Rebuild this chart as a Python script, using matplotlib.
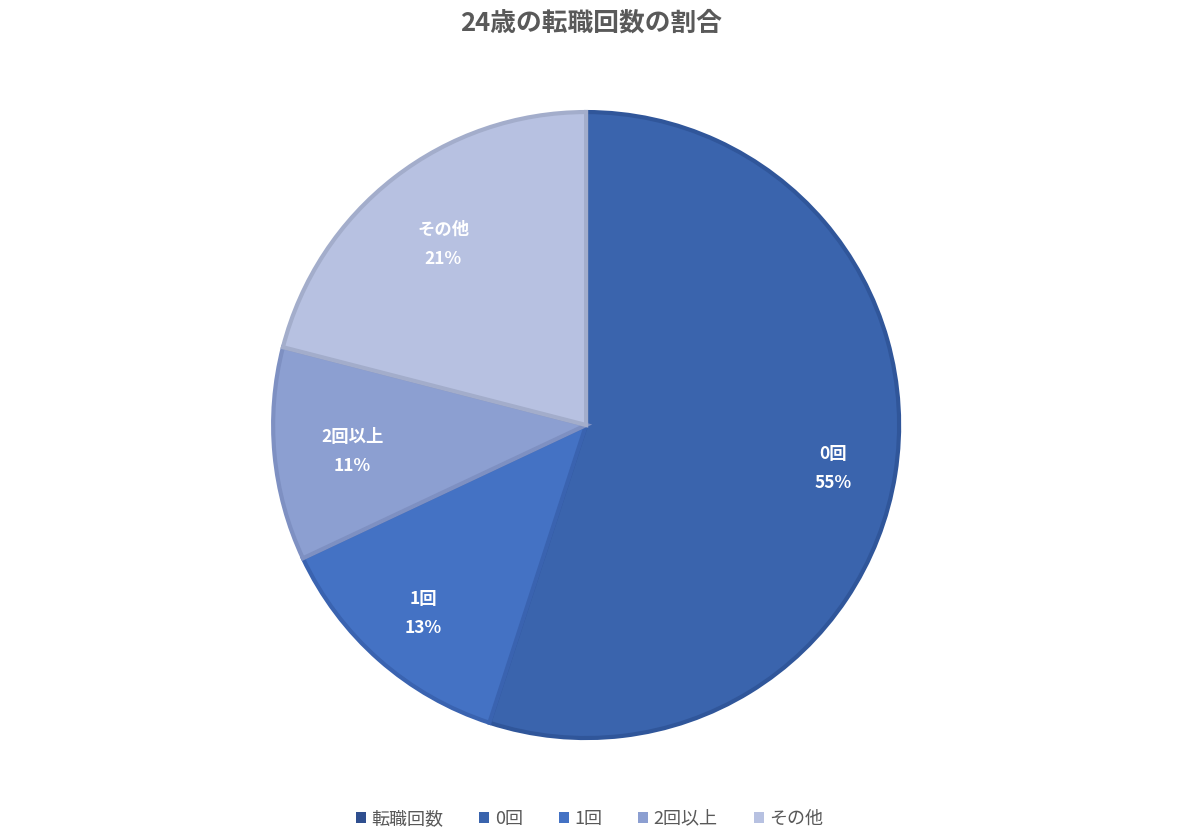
import math
import matplotlib
matplotlib.use('Agg')
import matplotlib.pyplot as plt
from matplotlib.patches import Patch

plt.rcParams['font.family'] = ['Noto Sans CJK JP', 'DejaVu Sans']

# data
title = '24歳の転職回数の割合'
series_name = '転職回数'
categories = ['0回', '1回', '2回以上', 'その他']
values = [55, 13, 11, 21]

colors = ['#3A64AD', '#4472C4', '#8C9FD1', '#B7C1E1']
edges = ['#30569A', '#3A63B0', '#7E90C2', '#A3ADCB']
label_dist = [0.8, 0.786, 0.75, 0.745]   # excel "best fit" placement
series_color = '#2F4F8F'
gray = '#595959'

fig = plt.figure(figsize=(11.86, 8.38), dpi=100)
ax = fig.add_axes([0.2302, 0.1193, 0.528, 0.747])

wedges, texts = ax.pie(values, colors=colors, startangle=90, counterclock=False,
                       wedgeprops=dict(linewidth=3))
for w, ec in zip(wedges, edges):
    w.set_edgecolor(ec)

total = sum(values)
for w, cat, v, d in zip(wedges, categories, values, label_dist):
    mid = math.radians((w.theta1 + w.theta2) / 2)
    ax.text(d * math.cos(mid), d * math.sin(mid) - 0.013,
            f'{cat}\n{round(100 * v / total)}%', ha='center', va='center',
            color='white', fontsize=12.5, fontweight='bold', linespacing=1.8)
ax.set_xlim(-1, 1)
ax.set_ylim(-1, 1)
ax.set_aspect('equal')

fig.text(0.4983, 0.973, title, ha='center', va='center', fontsize=18.5,
         fontweight='bold', color=gray)

handles = [Patch(facecolor=series_color, edgecolor='none')]
handles += [Patch(facecolor=c, edgecolor='none') for c in colors]
labels = [series_name] + categories
leg = fig.legend(handles, labels, loc='center', bbox_to_anchor=(0.497, 0.023),
                 ncol=5, frameon=False, fontsize=13, handlelength=0.55,
                 handleheight=0.55, handletextpad=0.3, columnspacing=2.0)
for t in leg.get_texts():
    t.set_color(gray)

fig.savefig('out.png', dpi=100)
